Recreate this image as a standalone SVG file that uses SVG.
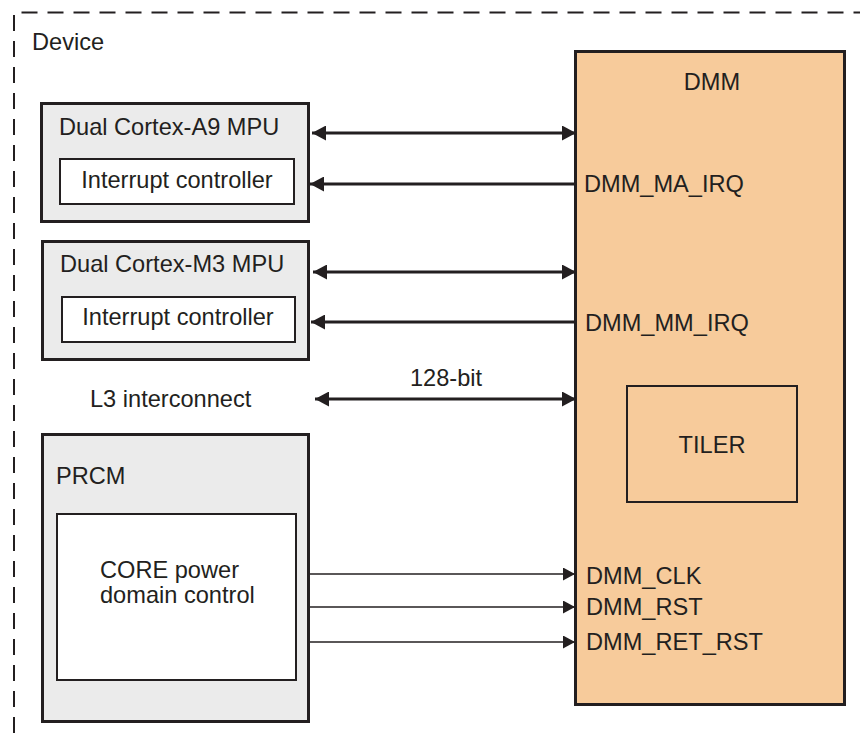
<svg xmlns="http://www.w3.org/2000/svg" width="860" height="733" viewBox="0 0 860 733">
<style>
text{font-family:"Liberation Sans",Arial,sans-serif;font-size:23.6px;fill:#231f20}
.box{fill:#ebebeb;stroke:#231f20;stroke-width:3}
.inner{fill:#ffffff;stroke:#231f20;stroke-width:2}
.thick{stroke:#231f20;stroke-width:3;fill:none}
.thin{stroke:#231f20;stroke-width:1.5;fill:none}
</style>
<defs>
<marker id="ah" markerUnits="userSpaceOnUse" markerWidth="14" markerHeight="15" refX="14" refY="7.5" orient="auto-start-reverse" viewBox="0 0 14 15">
<path d="M0,0 L14,7.5 L0,15 z" fill="#231f20"/>
</marker>
<marker id="ahs" markerUnits="userSpaceOnUse" markerWidth="12" markerHeight="13" refX="12" refY="6.5" orient="auto" viewBox="0 0 12 13">
<path d="M0,0 L12,6.5 L0,13 z" fill="#231f20"/>
</marker>
</defs>
<rect width="860" height="733" fill="#ffffff"/>
<g id="device">
<path d="M14,733 V12.5 H860" fill="none" stroke="#231f20" stroke-width="2" stroke-dasharray="16 10"/>
<text x="32" y="50">Device</text>
</g>
<g id="mpu-a9">
<rect class="box" x="41.5" y="103.5" width="267" height="118"/>
<text x="59" y="135">Dual Cortex-A9 MPU</text>
<rect class="inner" x="60" y="159" width="234" height="45"/>
<text x="177" y="188" text-anchor="middle">Interrupt controller</text>
</g>
<g id="mpu-m3">
<rect class="box" x="42.5" y="241.5" width="266" height="118"/>
<text x="60" y="272">Dual Cortex-M3 MPU</text>
<rect class="inner" x="62" y="297" width="233" height="45"/>
<text x="178" y="325" text-anchor="middle">Interrupt controller</text>
</g>
<g id="l3">
<text x="90" y="407">L3 interconnect</text>
</g>
<g id="prcm">
<rect class="box" x="42.5" y="434.5" width="266" height="287"/>
<text x="56" y="484">PRCM</text>
<rect class="inner" x="57" y="514" width="239" height="166"/>
<text x="100" y="578">CORE power</text>
<text x="100" y="603">domain control</text>
</g>
<g id="dmm">
<rect x="575.5" y="51.5" width="269" height="653" fill="#f7cb9b" stroke="#231f20" stroke-width="3"/>
<text x="712" y="90" text-anchor="middle">DMM</text>
<text x="584" y="192">DMM_MA_IRQ</text>
<text x="585" y="331">DMM_MM_IRQ</text>
<text x="586" y="584">DMM_CLK</text>
<text x="586" y="615">DMM_RST</text>
<text x="586" y="650">DMM_RET_RST</text>
</g>
<g id="tiler">
<rect x="627" y="386" width="170" height="116" fill="none" stroke="#231f20" stroke-width="2"/>
<text x="712" y="453" text-anchor="middle">TILER</text>
</g>
<g id="connectors">
<line class="thick" x1="312" y1="133" x2="576" y2="133" marker-start="url(#ah)" marker-end="url(#ah)"/>
<line class="thick" x1="575" y1="184" x2="310" y2="184" marker-end="url(#ah)"/>
<line class="thick" x1="313" y1="272" x2="576" y2="272" marker-start="url(#ah)" marker-end="url(#ah)"/>
<line class="thick" x1="575" y1="322" x2="311" y2="322" marker-end="url(#ah)"/>
<line class="thick" x1="315" y1="399" x2="576" y2="399" marker-start="url(#ah)" marker-end="url(#ah)"/>
<text x="446" y="386" text-anchor="middle">128-bit</text>
<line class="thin" x1="310" y1="574" x2="575" y2="574" marker-end="url(#ahs)"/>
<line class="thin" x1="310" y1="607" x2="575" y2="607" marker-end="url(#ahs)"/>
<line class="thin" x1="310" y1="642" x2="575" y2="642" marker-end="url(#ahs)"/>
</g>
</svg>
